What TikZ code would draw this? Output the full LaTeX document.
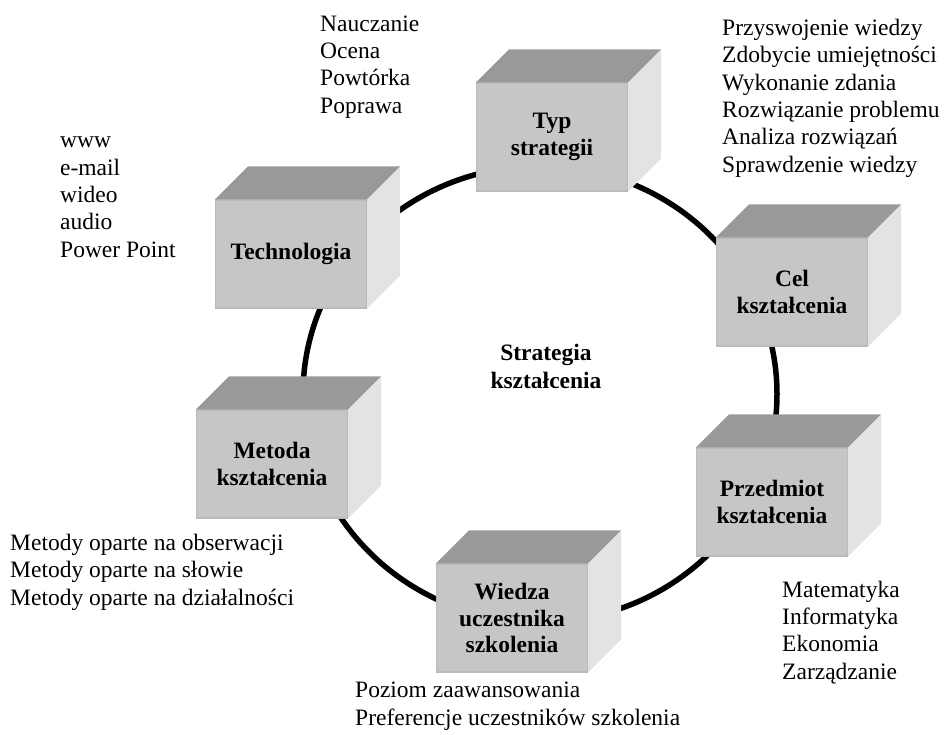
\documentclass[tikz,border=0pt]{standalone}
\usepackage{fontspec}
\setmainfont{Liberation Serif}
\usetikzlibrary{positioning,calc}
\definecolor{boxfront}{RGB}{198,198,198}
\definecolor{boxtop}{RGB}{153,153,153}
\definecolor{boxside}{RGB}{227,227,227}
\definecolor{boxedge}{RGB}{186,186,186}
\tikzset{
    block/.style={rectangle, fill=boxfront, draw=boxedge, line width=1.2pt, minimum width=151pt, minimum height=108pt, inner sep=0pt, align=center, font=\fontsize{23.5}{26.7}\selectfont\bfseries},
    items/.style={inner sep=0pt, anchor=base west, align=left, font=\fontsize{23.5}{27.3}\selectfont},
    hub/.style={inner sep=0pt, align=center, font=\fontsize{23.5}{28}\selectfont\bfseries},
    ring/.style={line width=5.5pt, black},
    topface/.style={fill=boxtop},
    sideface/.style={fill=boxside},
}

\begin{document}
\begin{tikzpicture}[x=1pt, y=-1pt]
    \useasboundingbox (0,0) rectangle (944,734);

    % Ring
    \coordinate (ringc) at (540,394);
    \draw[ring] (ringc) ellipse [x radius=237, y radius=228];

    % Centre
    \node[hub] (strategia) at (546,366) {Strategia\\kształcenia};

    % Blocks
    \node[block] (typ) at (552,137) {Typ\\strategii};
    \node[block] (cel) at (792,292) {Cel\\kształcenia};
    \node[block] (przedmiot) at (772,502) {Przedmiot\\kształcenia};
    \node[block] (wiedza) at (512,618) {Wiedza\\uczestnika\\szkolenia};
    \node[block] (metoda) at (272,464) {Metoda\\kształcenia};
    \node[block] (technologia) at (291,254) {Technologia};

    \foreach \b in {typ,cel,przedmiot,wiedza,metoda,technologia} {
        \fill[topface] (\b.north west) -- ++(33,-33) -- ($(\b.north east)+(33,-33)$) -- (\b.north east) -- cycle;
        \fill[sideface] (\b.north east) -- ++(33,-33) -- ($(\b.south east)+(33,-33)$) -- (\b.south east) -- cycle;
    }

    % Lists (anchored at the baseline of their last line)
    \node[items] (typlist) at (320,113) {Nauczanie\\Ocena\\Powtórka\\Poprawa};
    \node[items] (cellist) at (722,172) {Przyswojenie wiedzy\\Zdobycie umiejętności\\Wykonanie zdania\\Rozwiązanie problemu\\Analiza rozwiązań\\Sprawdzenie wiedzy};
    \node[items] (techlist) at (60,257) {www\\e-mail\\wideo\\audio\\Power Point};
    \node[items] (metlist) at (10,605) {Metody oparte na obserwacji\\Metody oparte na słowie\\Metody oparte na działalności};
    \node[items] (wiedzalist) at (355,725) {Poziom zaawansowania\\Preferencje uczestników szkolenia};
    \node[items] (przedlist) at (782,679) {Matematyka\\Informatyka\\Ekonomia\\Zarządzanie};
\end{tikzpicture}
\end{document}
